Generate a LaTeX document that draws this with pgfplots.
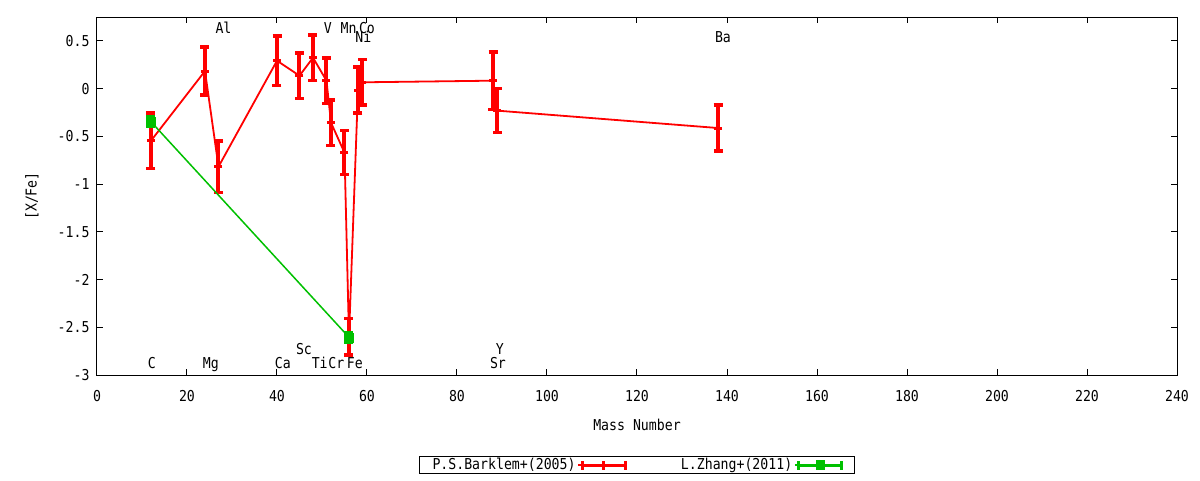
\documentclass[border=0pt]{standalone}
\usepackage{pgfplots}
\pgfplotsset{compat=1.18}
\usepackage{pgfplotstable}
\usepackage{fontspec}
\setmainfont{DejaVu Sans Mono}[FakeStretch=0.88]
\setmonofont{DejaVu Sans Mono}[FakeStretch=0.88]
\definecolor{gpred}{RGB}{255,0,0}
\definecolor{gpgreen}{RGB}{0,192,0}

% mass number, [X/Fe], error
\pgfplotstableread{
x y e
12 -0.546 0.29
24 0.184 0.25
27 -0.818 0.27
40 0.292 0.26
45 0.135 0.24
48 0.324 0.24
51 0.083 0.24
52 -0.357 0.24
55 -0.671 0.23
56 -2.599 0.19
58 -0.015 0.24
59 0.066 0.24
88 0.083 0.30
89 -0.231 0.23
138 -0.413 0.24
}\barklem
\pgfplotstableread{
x y e
12 -0.347 0.05
56 -2.605 0.05
}\zhang

\begin{document}
\begin{tikzpicture}
\useasboundingbox (-97pt,-105pt) rectangle (1103pt,375pt);
\begin{axis}[
    scale only axis,
    width=1080pt, height=358pt,
    xmin=0, xmax=240, ymin=-3, ymax=0.75,
    clip=false,
    font=\fontsize{15}{18}\selectfont,
    axis line style={line width=1pt},
    tick style={black, line width=1pt},
    tick align=inside,
    major tick length=6pt,
    xtick={0,20,...,240},
    xticklabels={0,20,40,60,80,100,120,140,160,180,200,220,240},
    ytick={-3,-2.5,...,0.5},
    yticklabels={-3,-2.5,-2,-1.5,-1,-0.5,0,0.5},
    xticklabel style={yshift=-12pt},
    yticklabel style={xshift=-4pt},
    xlabel={Mass Number},
    ylabel={[X/Fe]},
    xlabel style={at={(axis description cs:0.5,-0.1397)}, anchor=center},
    ylabel style={at={(axis description cs:-0.0602,0.5)}, anchor=center},
    legend plot pos=right,
    legend columns=2,
    legend cell align=right,
    legend style={at={(axis description cs:0.5,-0.2514)}, anchor=center,
        draw=black, line width=1pt, inner xsep=11pt, inner ysep=0.5pt,
        font=\fontsize{15}{18}\selectfont,
        /tikz/every even column/.append style={column sep=52pt}},
]
\addplot[gpred, line width=1.8pt, mark=-, mark size=4pt,
    mark options={line width=3pt},
    legend image code/.code={
        \path (-4pt,0pt) -- (43pt,0pt);
        \draw[gpred, line width=3pt] (0pt,0pt) -- (43pt,0pt);
        \draw[gpred, line width=3pt] (0pt,-4.5pt) -- (0pt,4.5pt)
            (21.5pt,-4.5pt) -- (21.5pt,4.5pt) (43pt,-4.5pt) -- (43pt,4.5pt);
    },
    error bars/.cd, y dir=both, y explicit,
    error bar style={line width=4pt},
    error mark options={rotate=90, mark size=4.5pt, line width=3.5pt}]
    table[x=x, y=y, y error=e] {\barklem};
\addlegendentry{P.S.Barklem+(2005)}
\addplot[gpgreen, line width=1.5pt, mark=square*, mark size=4.5pt,
    mark options={line width=0.5pt},
    legend image code/.code={
        \path (-4pt,0pt) -- (43pt,0pt);
        \draw[gpgreen, line width=3pt] (0pt,0pt) -- (43pt,0pt);
        \draw[gpgreen, line width=3pt] (0pt,-4.5pt) -- (0pt,4.5pt)
            (43pt,-4.5pt) -- (43pt,4.5pt);
        \fill[gpgreen] (17.5pt,-4.5pt) rectangle (25.5pt,4.5pt);
    },
    error bars/.cd, y dir=both, y explicit,
    error bar style={line width=3pt},
    error mark options={rotate=90, mark size=4.5pt, line width=3pt}]
    table[x=x, y=y, y error=e] {\zhang};
\addlegendentry{L.Zhang+(2011)}

% element labels
\node[anchor=base] at (axis cs:12.2,-2.937) {C};
\node[anchor=base] at (axis cs:25.3,-2.937) {Mg};
\node[anchor=base] at (axis cs:41.3,-2.937) {Ca};
\node[anchor=base] at (axis cs:46.0,-2.790) {Sc};
\node[anchor=base] at (axis cs:49.5,-2.937) {Ti};
\node[anchor=base] at (axis cs:53.2,-2.937) {Cr};
\node[anchor=base] at (axis cs:57.3,-2.937) {Fe};
\node[anchor=base] at (axis cs:89.1,-2.937) {Sr};
\node[anchor=base] at (axis cs:89.5,-2.790) {Y};
\node[anchor=base] at (axis cs:28.1,0.582) {Al};
\node[anchor=base] at (axis cs:51.3,0.582) {V};
\node[anchor=base] at (axis cs:55.9,0.582) {Mn};
\node[anchor=base] at (axis cs:60.0,0.582) {Co};
\node[anchor=base] at (axis cs:59.2,0.478) {Ni};
\node[anchor=base] at (axis cs:139.1,0.478) {Ba};
\end{axis}
\end{tikzpicture}
\end{document}
